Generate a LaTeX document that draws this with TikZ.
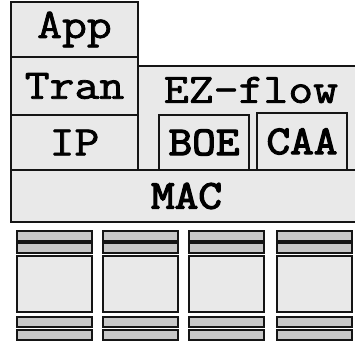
\documentclass[tikz,border=0pt]{standalone}
\usepackage{fontspec}
\newfontfamily\stackfont[FakeBold=1.8, FakeStretch=1.15]{Latin Modern Mono}
\newfontfamily\stackfontheavy[FakeBold=3.2, FakeStretch=1.12]{Latin Modern Mono}
\definecolor{panel}{HTML}{E9E9E9}
\definecolor{barfill}{HTML}{C8C8C8}
\definecolor{edge}{HTML}{151515}
\tikzset{
  layer/.style={draw=edge, line width=1.6pt, fill=panel, inner sep=0pt, outer sep=0pt,
    anchor=north west, font=\stackfont\fontsize{42}{42}\selectfont},
  strong/.style={font=\stackfontheavy\fontsize{41}{41}\selectfont},
  lbl/.style={inner sep=0pt, font=\stackfont\fontsize{42}{42}\selectfont},
  bar/.style={draw=edge, line width=1.8pt, fill=barfill, inner sep=0pt, outer sep=0pt,
    anchor=north west, minimum width=75pt, minimum height=10pt},
  cell/.style={draw=edge, line width=1.8pt, fill=panel, inner sep=0pt, outer sep=0pt,
    anchor=north west, minimum width=75pt, minimum height=56pt},
}
\begin{document}
\begin{tikzpicture}[x=1pt, y=-1pt]
\useasboundingbox (0,0) rectangle (355,343);
\clip (0,0) rectangle (355,343);
% protocol stack
\node[layer, minimum width=127pt, minimum height=55pt] (app) at (11,2) {App};
\node[layer, minimum width=127pt, minimum height=58pt] (tran) at (11,57) {Tran};
\node[layer, minimum width=127pt, minimum height=55pt] (ip) at (11,115) {IP};
\node[layer, minimum width=224pt, minimum height=104pt] (ezflow) at (138,66) {};
\node[lbl] (ezlabel) at (251,90) {EZ-flow};
\node[layer, strong, minimum width=90pt, minimum height=55pt] (boe) at (159,115) {BOE};
\node[layer, strong, minimum width=90pt, minimum height=57pt] (caa) at (257,113) {CAA};
\node[layer, strong, minimum width=351pt, minimum height=52pt] (mac) at (11,170) {MAC};
% radio channels below the MAC layer
\foreach \i/\x in {1/17, 2/103, 3/189, 4/277} {
  \node[bar] (ta\i) at (\x,231) {};
  \node[bar] (tb\i) at (\x,243) {};
  \node[cell] (c\i) at (\x,256) {};
  \node[bar] (ba\i) at (\x,317) {};
  \node[bar] (bb\i) at (\x,330) {};
}
\end{tikzpicture}
\end{document}
